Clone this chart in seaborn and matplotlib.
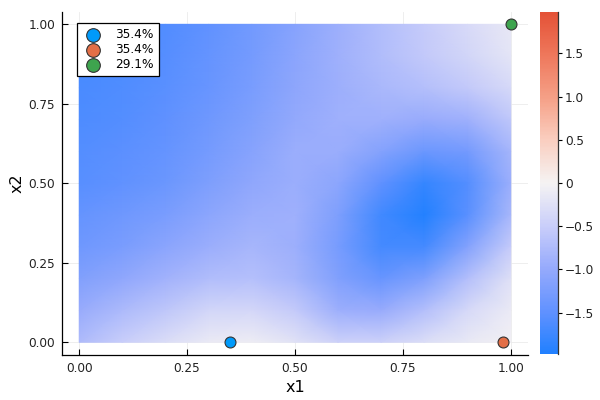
import numpy as np
import matplotlib
matplotlib.use("Agg")
import matplotlib.pyplot as plt
from matplotlib.colors import LinearSegmentedColormap
import seaborn as sns

# grid of the surface
x1_grid = [0.0, 0.1, 0.2, 0.3, 0.4, 0.5, 0.6, 0.7, 0.8, 0.9, 1.0]
x2_grid = [1.0, 0.9, 0.8, 0.7, 0.6, 0.5, 0.4, 0.3, 0.2, 0.1, 0.0]
z_rows = [
    [-1.70, -1.66, -1.60, -1.48, -1.32, -1.12, -0.92, -0.72, -0.53, -0.34, -0.15],
    [-1.68, -1.64, -1.57, -1.45, -1.29, -1.09, -0.90, -0.73, -0.57, -0.40, -0.20],
    [-1.66, -1.61, -1.54, -1.42, -1.26, -1.06, -0.92, -0.79, -0.70, -0.57, -0.35],
    [-1.63, -1.58, -1.49, -1.36, -1.20, -1.01, -0.91, -0.91, -0.97, -0.90, -0.60],
    [-1.59, -1.53, -1.44, -1.29, -1.12, -0.94, -0.95, -1.15, -1.39, -1.30, -0.84],
    [-1.55, -1.48, -1.38, -1.22, -1.05, -0.93, -1.07, -1.49, -1.81, -1.59, -0.93],
    [-1.45, -1.36, -1.24, -1.07, -0.93, -0.91, -1.21, -1.72, -1.95, -1.54, -0.81],
    [-1.35, -1.24, -1.09, -0.94, -0.83, -0.92, -1.28, -1.70, -1.69, -1.15, -0.53],
    [-1.19, -1.04, -0.88, -0.73, -0.69, -0.84, -1.19, -1.42, -1.20, -0.70, -0.26],
    [-0.97, -0.77, -0.59, -0.40, -0.38, -0.55, -0.92, -0.96, -0.70, -0.35, -0.11],
    [-0.75, -0.50, -0.30, -0.12, -0.08, -0.22, -0.45, -0.45, -0.28, -0.13, -0.04],
]

# the three sampled points and their weights
pt_x1 = [0.35, 0.983, 1.0]
pt_x2 = [0.0, 0.0, 1.0]
pt_labels = ["35.4%", "35.4%", "29.1%"]
pt_colors = ["#009afa", "#e36f47", "#3ea44e"]

axis_ticks = [0.0, 0.25, 0.5, 0.75, 1.0]
axis_ticklabels = ["0.00", "0.25", "0.50", "0.75", "1.00"]
cbar_ticks = [-1.5, -1.0, -0.5, 0.0, 0.5, 1.0, 1.5]
cbar_ticklabels = ["\u22121.5", "\u22121.0", "\u22120.5", "0", "0.5", "1.0", "1.5"]
zmax = 1.98

# blue - white - red map like the one in the picture
cmap = LinearSegmentedColormap.from_list("bwr_like", [
    (0.00, (33/255, 128/255, 255/255)),
    (0.12, (95/255, 145/255, 255/255)),
    (0.25, (150/255, 170/255, 252/255)),
    (0.37, (200/255, 205/255, 250/255)),
    (0.50, (245/255, 243/255, 243/255)),
    (0.63, (250/255, 205/255, 190/255)),
    (0.75, (245/255, 160/255, 135/255)),
    (0.88, (238/255, 118/255, 90/255)),
    (1.00, (228/255, 82/255, 55/255)),
])

fig = plt.figure(figsize=(6, 4), dpi=100)
ax = fig.add_axes([0.1033, 0.1125, 0.7767, 0.8585])
cax = fig.add_axes([0.900, 0.115, 0.030, 0.855])

X, Y = np.meshgrid(x1_grid, x2_grid)
mesh = ax.pcolormesh(X, Y, np.array(z_rows), cmap=cmap, vmin=-zmax, vmax=zmax,
                     shading="gouraud", zorder=1)

for px, py, lab, col in zip(pt_x1, pt_x2, pt_labels, pt_colors):
    sns.scatterplot(x=[px], y=[py], color=col, s=62, edgecolor="#333333",
                    linewidth=0.8, label=lab, ax=ax, zorder=3, clip_on=False)

ax.set_xlim(-0.04, 1.04)
ax.set_ylim(-0.04, 1.04)
ax.set_xticks(axis_ticks)
ax.set_xticklabels(axis_ticklabels)
ax.set_yticks(axis_ticks)
ax.set_yticklabels(axis_ticklabels)
ax.tick_params(direction="in", length=4, width=0.8, labelsize=8.7, pad=5,
               labelcolor="#222222")
ax.set_axisbelow(True)
ax.grid(True, color="#ebebeb", linewidth=0.6)
for side in ["top", "right"]:
    ax.spines[side].set_visible(False)
for side in ["left", "bottom"]:
    ax.spines[side].set_linewidth(0.9)
ax.set_xlabel("x1", fontsize=11.5, labelpad=4)
ax.set_ylabel("x2", fontsize=11.5, labelpad=3)

leg = ax.legend(loc="upper left", bbox_to_anchor=(0.032, 0.967), fontsize=8.7,
                frameon=True, fancybox=False, edgecolor="black", framealpha=1,
                borderaxespad=0, borderpad=0.45, handletextpad=0.9,
                labelspacing=0.15, handlelength=1.8, markerscale=1.25)
leg.get_frame().set_linewidth(0.9)

cb = fig.colorbar(mesh, cax=cax)
cb.outline.set_visible(False)
cb.set_ticks(cbar_ticks)
cb.set_ticklabels(cbar_ticklabels)
cax.tick_params(direction="out", length=3, width=0.8, labelsize=8.7, pad=2,
                labelcolor="#222222")
cax.plot([1, 1], [0, 1], transform=cax.transAxes, color="#333333",
         linewidth=0.9, clip_on=False)

fig.savefig("out.png", dpi=100)
